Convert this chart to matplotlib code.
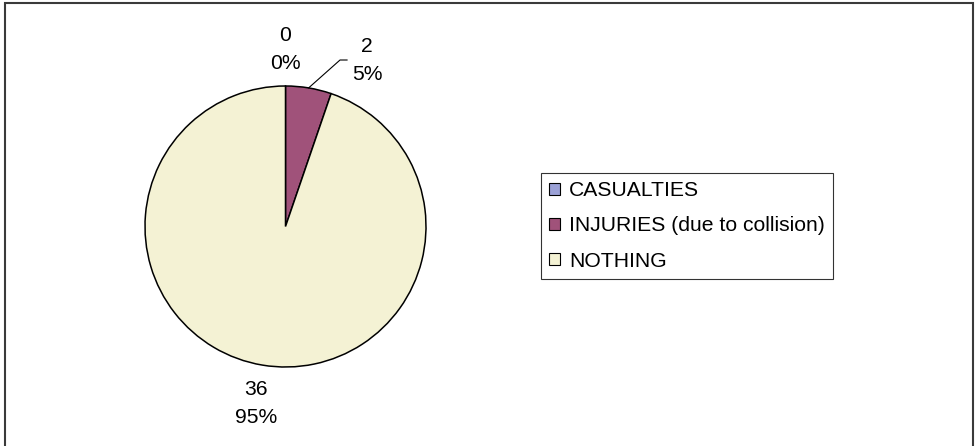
import numpy as np
import matplotlib
matplotlib.use("Agg")
import matplotlib.pyplot as plt
from matplotlib.patches import Patch, Rectangle

plt.rcParams['font.family'] = ['Liberation Sans', 'DejaVu Sans']

categories = ["CASUALTIES", "INJURIES (due to collision)", "NOTHING"]
counts = [0, 2, 36]
colors = ["#9BA1D6", "#A0527A", "#F4F2D4"]

W, H = 978, 446
fig = plt.figure(figsize=(W / 100, H / 100), dpi=100)

# outer chart border
fig.patches.append(Rectangle((5 / W, -0.05), 968 / W, 1.05 - 3 / H, transform=fig.transFigure,
                             fill=False, edgecolor="#3a3a3a", linewidth=1.5))

# pie placed in pixels: centre (285.5, 226.5), radius 140.5
cx, cy, r = 285.5, 226.5, 140.5
ax = fig.add_axes([(cx - r) / W, (H - cy - r) / H, 2 * r / W, 2 * r / H])

wedges, _ = ax.pie(counts, colors=colors, startangle=90, counterclock=False,
                   wedgeprops=dict(edgecolor="black", linewidth=1.1))
ax.set_xlim(-1, 1)
ax.set_ylim(-1, 1)
ax.axis("off")

total = sum(counts)
fs = 15.2
for i, w in enumerate(wedges):
    pct = round(100 * counts[i] / total)
    text = "%d\n%d%%" % (counts[i], pct)
    mid = np.deg2rad((w.theta1 + w.theta2) / 2)
    if i == 1:
        # label moved aside with a leader line
        ex, ey = np.cos(mid), np.sin(mid)
        ax.plot([ex, 0.388, 0.438], [ey, 1.185, 1.185], color="black", linewidth=0.8,
                clip_on=False)
        ax.text(0.58, 1.18, text, ha="center", va="center", fontsize=fs,
                linespacing=1.6, clip_on=False)
    else:
        d = 1.27
        ax.text(d * np.cos(mid), d * np.sin(mid) - 0.01, text, ha="center", va="center",
                fontsize=fs, linespacing=1.6, clip_on=False)

handles = [Patch(facecolor=c, edgecolor="black", linewidth=0.8) for c in colors]
leg = fig.legend(handles, categories, loc="upper left",
                 bbox_to_anchor=(541 / W, 1 - 173 / H), borderaxespad=0,
                 fontsize=fs, frameon=True, fancybox=False, shadow=False,
                 handlelength=0.5, handleheight=0.5, handletextpad=0.45,
                 labelspacing=0.78, borderpad=0.38)
leg.get_frame().set_edgecolor("black")
leg.get_frame().set_linewidth(0.8)

fig.savefig("out.png", dpi=100)
